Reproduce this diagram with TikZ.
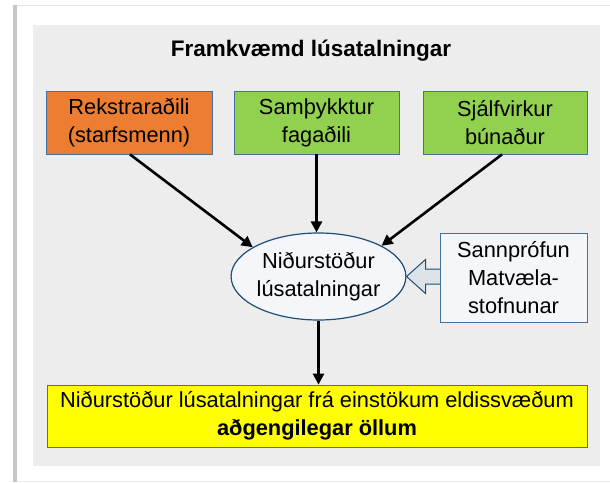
\documentclass[tikz,border=0pt]{standalone}
\usepackage{fontspec}
\setmainfont{Liberation Sans}
\usetikzlibrary{arrows.meta,shapes.geometric,calc}
\definecolor{bgray}{HTML}{EDEDED}
\definecolor{orangebox}{HTML}{ED7D31}
\definecolor{greenbox}{HTML}{92D050}
\definecolor{yellowbox}{HTML}{FFFF00}
\definecolor{boxline}{HTML}{41719C}
\definecolor{ellline}{HTML}{1F4E79}
\definecolor{ellfill}{HTML}{F4F6F9}
\definecolor{blkfill}{HTML}{DDE2E8}
\tikzset{
  boxtext/.style={font=\fontsize{21.8}{28}\selectfont},
  stepbox/.style={rectangle, draw=boxline, line width=0.8pt, align=center, inner sep=0pt, boxtext},
  conn/.style={draw=black, line width=2.6pt, -{Triangle[length=11pt,width=11pt]}},
  blk/.style={draw=ellline, line width=1pt, fill=blkfill, line join=miter}
}
\begin{document}
\begin{tikzpicture}[x=1pt,y=-1pt]
\useasboundingbox (0,0) rectangle (610,482);
\fill[white] (0,0) rectangle (610,482);
% card frame
\fill[gray!22] (13,4.5) rectangle (610,6);
\fill[gray!45] (13,5) rectangle (16.5,482);
\fill[gray!15] (16.5,480.5) rectangle (610,482);
\fill[bgray] (33,25) rectangle (600,466);
% title
\node[font=\fontsize{22.5}{26}\selectfont\bfseries] (title) at (311,51) {Framkvæmd lúsatalningar};
% top boxes
\node[stepbox, fill=orangebox, minimum width=166pt, minimum height=63pt] (opr) at (129,122.5) {Rekstraraðili\\(starfsmenn)};
\node[stepbox, fill=greenbox, minimum width=165pt, minimum height=63pt] (fag) at (316.5,122.5) {Samþykktur\\fagaðili};
\node[stepbox, fill=greenbox, minimum width=164pt, minimum height=63pt] (auto) at (505,122.5) {Sjálfvirkur\\búnaður};
% ellipse
\node[ellipse, draw=ellline, line width=1.2pt, fill=ellfill, minimum width=173pt, minimum height=87pt, inner sep=0pt, align=center, boxtext] (ell) at (318.5,276.5) {Niðurstöður\\lúsatalningar};
% block arrow (drawn before the box)
\coordinate (sw) at (440,277.5);
\path[blk] (ell.east) -- ($(ell.east)+(19,-17)$) -- ($(ell.east)+(19,-7.5)$) -- ($(sw)+(2,-8.5)$) -- ($(sw)+(2,6.5)$) -- ($(ell.east)+(19,7.5)$) -- ($(ell.east)+(19,17)$) -- cycle;
\node[stepbox, fill=ellfill, minimum width=147pt, minimum height=89pt] (sann) at (513.5,277.5) {Sannprófun\\Matvæla-\\stofnunar};
% bottom box
\node[stepbox, fill=yellowbox, minimum width=540pt, minimum height=62pt] (res) at (317,416) {Niðurstöður lúsatalningar frá einstökum eldissvæðum\\\textbf{aðgengilegar öllum}};
% connectors
\coordinate (s1) at ($(opr.south)+(1,0)$);
\coordinate (s3) at ($(auto.south)+(-3,0)$);
\draw[conn] (s1) -- (ell.156);
\draw[conn] (fag.south) -- (fag.south |- ell.north);
\draw[conn] (s3) -- (ell.26);
\draw[conn] (ell.south) -- (ell.south |- res.north);
\end{tikzpicture}
\end{document}
